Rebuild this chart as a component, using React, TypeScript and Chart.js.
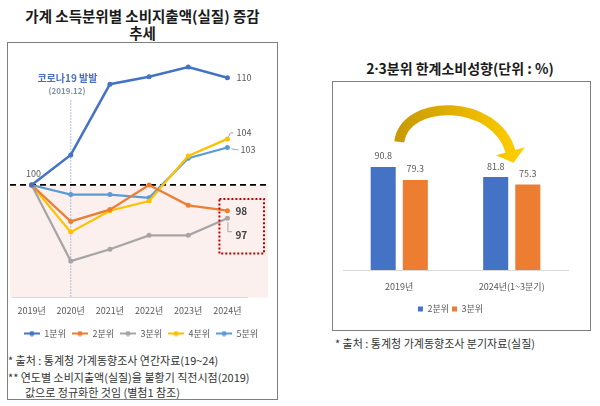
import React, { useEffect, useRef } from "react";
import { Chart, registerables } from "chart.js";

Chart.register(...registerables);

const FONT = "'Noto Sans CJK KR', 'Noto Sans', sans-serif";
Chart.defaults.font.family = FONT;

// ---- Left chart data (2019 = 100) ----
const years = ["2019년", "2020년", "2021년", "2022년", "2023년", "2024년"];
const quintileNames = ["1분위", "2분위", "3분위", "4분위", "5분위"];
const q1Values = [100, 102.8, 109.4, 110.1, 111.0, 110.0];
const q2Values = [100, 96.6, 97.7, 100.0, 98.1, 97.6];
const q3Values = [100, 92.9, 94.0, 95.3, 95.3, 96.9];
const q4Values = [100, 95.6, 97.6, 98.5, 102.7, 104.3];
const q5Values = [100, 99.1, 99.1, 98.8, 102.5, 103.5];
const quintileColors = ["#4472c4", "#ed7d31", "#a5a5a5", "#ffc000", "#5b9bd5"];
const endLabels = ["110", "98", "97", "104", "103"];
const baseLabel = "100";
const covidLabel = "코로나19 발발";
const covidDate = "(2019.12)";

// ---- Right chart data (%) ----
const barCategories = ["2019년", "2024년(1~3분기)"];
const barSeriesNames = ["2분위", "3분위"];
const q2Propensity = [90.8, 81.8];
const q3Propensity = [79.3, 75.3];
const barColors = ["#4472c4", "#ed7d31"];

function LineChart() {
  const ref = useRef<HTMLCanvasElement>(null);
  useEffect(() => {
    const seriesValues = [q1Values, q2Values, q3Values, q4Values, q5Values];
    const markers = quintileColors.map((c) => {
      const cv = document.createElement("canvas");
      cv.width = 16;
      cv.height = 6;
      const g = cv.getContext("2d")!;
      g.strokeStyle = c;
      g.lineWidth = 2;
      g.beginPath();
      g.moveTo(0, 3);
      g.lineTo(16, 3);
      g.stroke();
      g.fillStyle = c;
      g.beginPath();
      g.arc(8, 3, 2.5, 0, Math.PI * 2);
      g.fill();
      return cv;
    });

    const decor = {
      id: "lineDecor",
      beforeDraw(chart: any) {
        const { ctx, chartArea: ca, scales } = chart;
        const y100 = scales.y.getPixelForValue(100);
        ctx.save();
        ctx.fillStyle = "#fcf0ef";
        ctx.fillRect(ca.left - 2, y100, ca.right + 21 - (ca.left - 2), ca.bottom - y100);
        ctx.restore();
      },
      beforeDatasetsDraw(chart: any) {
        const { ctx, chartArea: ca, scales } = chart;
        const x = scales.x;
        const y = scales.y;
        const y100 = y.getPixelForValue(100);
        const xc = x.getPixelForValue(1);
        ctx.save();
        ctx.strokeStyle = "#9aa8d8";
        ctx.lineWidth = 1;
        ctx.setLineDash([1.5, 1.5]);
        ctx.beginPath();
        ctx.moveTo(xc, y.getPixelForValue(107.9));
        ctx.lineTo(xc, ca.bottom);
        ctx.stroke();
        ctx.setLineDash([6, 4]);
        ctx.strokeStyle = "#000";
        ctx.lineWidth = 1.8;
        ctx.beginPath();
        ctx.moveTo(ca.left - 2, y100);
        ctx.lineTo(ca.right + 21, y100);
        ctx.stroke();
        ctx.setLineDash([]);
        ctx.textAlign = "center";
        ctx.textBaseline = "middle";
        ctx.font = `bold 10px ${FONT}`;
        ctx.fillStyle = "#4a6fc0";
        ctx.fillText(covidLabel, xc - 3.3, y.getPixelForValue(110));
        ctx.font = `600 8px ${FONT}`;
        ctx.fillStyle = "#8090aa";
        ctx.fillText(covidDate, xc - 3.7, y.getPixelForValue(108.8));
        ctx.restore();
      },
      afterDatasetsDraw(chart: any) {
        const { ctx, chartArea: ca, scales } = chart;
        const y = scales.y;
        const last = years.length - 1;
        const pt = (d: number, i: number) => chart.getDatasetMeta(d).data[i] as any;
        ctx.save();
        ctx.textBaseline = "middle";
        ctx.font = `9px ${FONT}`;
        ctx.fillStyle = "#595959";
        ctx.textAlign = "center";
        const p0 = pt(0, 0);
        ctx.fillText(baseLabel, p0.x + 2, p0.y - 11);
        ctx.textAlign = "left";
        const a = pt(0, last);
        ctx.fillText(endLabels[0], a.x + 9, a.y);
        ctx.strokeStyle = "#a6a6a6";
        ctx.lineWidth = 1;
        const b = pt(3, last);
        ctx.beginPath();
        ctx.moveTo(b.x + 1, b.y - 2);
        ctx.lineTo(b.x + 3, b.y - 6);
        ctx.lineTo(b.x + 6, b.y - 6);
        ctx.stroke();
        ctx.fillText(endLabels[3], b.x + 9, b.y - 6);
        const c = pt(4, last);
        ctx.beginPath();
        ctx.moveTo(c.x + 4, c.y + 1.5);
        ctx.lineTo(c.x + 11, c.y + 2.5);
        ctx.stroke();
        ctx.fillText(endLabels[4], c.x + 13, c.y + 2.5);
        ctx.font = `bold 10px ${FONT}`;
        ctx.fillStyle = "#404040";
        const d = pt(1, last);
        ctx.fillText(endLabels[1], d.x + 8, d.y + 1);
        const e = pt(2, last);
        ctx.beginPath();
        ctx.moveTo(e.x + 0.5, e.y + 4);
        ctx.lineTo(e.x + 0.5, e.y + 13.5);
        ctx.lineTo(e.x + 4.5, e.y + 13.5);
        ctx.stroke();
        ctx.fillText(endLabels[2], e.x + 8, e.y + 17);
        ctx.strokeStyle = "#c00000";
        ctx.lineWidth = 2;
        ctx.setLineDash([2, 2]);
        const top = y.getPixelForValue(98.7);
        const bot = y.getPixelForValue(93.6);
        ctx.strokeRect(d.x - 8, top, ca.right + 17 - (d.x - 8), bot - top);
        ctx.restore();
      },
    };

    const chart = new Chart(ref.current!, {
      type: "line",
      data: {
        labels: years,
        datasets: seriesValues.map((v, i) => ({
          label: quintileNames[i],
          data: v,
          borderColor: quintileColors[i],
          backgroundColor: quintileColors[i],
          pointBackgroundColor: quintileColors[i],
          pointBorderColor: quintileColors[i],
          pointRadius: 2.5,
          pointBorderWidth: 0,
          borderWidth: i === 0 ? 2.5 : 2.2,
          tension: 0,
        })),
      },
      options: {
        responsive: false,
        animation: false,
        events: [],
        layout: { padding: { left: 4, right: 6, top: 7, bottom: 0 } },
        scales: {
          x: {
            offset: true,
            grid: { display: false, drawTicks: false },
            border: { color: "#d9d9d9" },
            ticks: { color: "#595959", font: { size: 9, family: FONT }, padding: 8, maxRotation: 0 },
            afterFit: (s: any) => {
              s.height = 25.5;
            },
          },
          y: {
            position: "right",
            min: 89.5,
            max: 112.5,
            grid: { display: false, drawTicks: false },
            border: { display: false },
            ticks: { display: false },
            afterFit: (s: any) => {
              s.width = 23;
            },
          },
        },
        plugins: {
          legend: {
            position: "bottom",
            labels: {
              usePointStyle: true,
              pointStyleWidth: 16,
              padding: 6,
              color: "#595959",
              font: { size: 9, family: FONT },
              generateLabels: (ch: any) =>
                (Chart.defaults.plugins.legend.labels as any)
                  .generateLabels(ch)
                  .map((l: any, i: number) => ({ ...l, pointStyle: markers[i] })),
            },
          },
          tooltip: { enabled: false },
        },
      } as any,
      plugins: [decor],
    });
    return () => chart.destroy();
  }, []);
  return (
    <canvas
      ref={ref}
      width={268}
      height={304}
      style={{ position: "absolute", left: 8, top: 44, display: "block" }}
    />
  );
}

function BarChart() {
  const ref = useRef<HTMLCanvasElement>(null);
  useEffect(() => {
    const barDecor = {
      id: "barDecor",
      afterDatasetsDraw(chart: any) {
        const { ctx } = chart;
        ctx.save();
        ctx.font = `9px ${FONT}`;
        ctx.fillStyle = "#595959";
        ctx.textAlign = "center";
        ctx.textBaseline = "middle";
        chart.data.datasets.forEach((ds: any, di: number) => {
          chart.getDatasetMeta(di).data.forEach((el: any, i: number) => {
            ctx.fillText(Number(ds.data[i]).toFixed(1), el.x, el.y - 11);
          });
        });
        const b0 = chart.getDatasetMeta(0).data[0] as any;
        const b1 = chart.getDatasetMeta(0).data[1] as any;
        const P0 = { x: b0.x + 16, y: b0.y - 25 };
        const P3 = { x: b1.x + 15, y: b1.y - 25 };
        const P1 = { x: P0.x + 6, y: P0.y - 44 };
        const P2 = { x: P3.x - 15, y: P3.y - 54 };
        const grad = ctx.createLinearGradient(P0.x, 0, P3.x + 15, 0);
        grad.addColorStop(0, "#c99a06");
        grad.addColorStop(0.5, "#e6b400");
        grad.addColorStop(1, "#ffd200");
        ctx.strokeStyle = grad;
        ctx.lineWidth = 10;
        ctx.lineCap = "butt";
        ctx.beginPath();
        ctx.moveTo(P0.x, P0.y);
        ctx.bezierCurveTo(P1.x, P1.y, P2.x, P2.y, P3.x, P3.y);
        ctx.stroke();
        const dx = P3.x - P2.x;
        const dy = P3.y - P2.y;
        const len = Math.hypot(dx, dy);
        const ux = dx / len;
        const uy = dy / len;
        const nx = -uy;
        const ny = ux;
        ctx.fillStyle = grad;
        ctx.beginPath();
        ctx.moveTo(P3.x + nx * 15 - ux, P3.y + ny * 15 - uy);
        ctx.lineTo(P3.x + ux * 11, P3.y + uy * 11);
        ctx.lineTo(P3.x - nx * 15 - ux, P3.y - ny * 15 - uy);
        ctx.closePath();
        ctx.fill();
        ctx.restore();
      },
    };
    const chart = new Chart(ref.current!, {
      type: "bar",
      data: {
        labels: barCategories,
        datasets: [q2Propensity, q3Propensity].map((v, i) => ({
          label: barSeriesNames[i],
          data: v,
          backgroundColor: barColors[i],
          borderWidth: 0,
          categoryPercentage: 0.571,
          barPercentage: 0.78,
        })),
      },
      options: {
        responsive: false,
        animation: false,
        events: [],
        layout: { padding: { left: 0, right: 21, top: 8, bottom: 5.5 } },
        scales: {
          x: {
            grid: { display: false, drawTicks: false },
            border: { color: "#d9d9d9" },
            ticks: { color: "#595959", font: { size: 9, family: FONT }, padding: 11.6 },
            afterFit: (s: any) => {
              s.height = 31.5;
            },
          },
          y: {
            position: "left",
            min: 0,
            max: 158.5,
            grid: { display: false, drawTicks: false },
            border: { display: false },
            ticks: { display: false },
            afterFit: (s: any) => {
              s.width = 10;
            },
          },
        },
        plugins: {
          legend: {
            position: "bottom",
            labels: {
              boxWidth: 5,
              boxHeight: 5,
              padding: 3,
              color: "#595959",
              font: { size: 9, family: FONT },
            },
          },
          tooltip: { enabled: false },
        },
      } as any,
      plugins: [barDecor],
    });
    return () => chart.destroy();
  }, []);
  return (
    <canvas
      ref={ref}
      width={256}
      height={247}
      style={{ position: "absolute", left: 333, top: 82, display: "block" }}
    />
  );
}

const textBase: React.CSSProperties = {
  position: "absolute",
  whiteSpace: "nowrap",
  fontFamily: FONT,
};

const noteStyle: React.CSSProperties = {
  ...textBase,
  transform: "translateY(-50%)",
  fontSize: 11,
  color: "#333",
};

export default function App() {
  return (
    <div
      style={{
        position: "absolute",
        left: 0,
        top: 0,
        width: 600,
        height: 406,
        background: "#fff",
        overflow: "hidden",
        fontFamily: FONT,
      }}
    >
      <div
        style={{
          ...textBase,
          left: 0,
          width: 285,
          top: 8,
          textAlign: "center",
          fontSize: 14.5,
          fontWeight: 700,
          lineHeight: "16.5px",
          color: "#1a1a1a",
        }}
      >
        가계 소득분위별 소비지출액(실질) 증감
        <br />
        추세
      </div>
      <div
        style={{
          position: "absolute",
          left: 7,
          top: 42,
          width: 271,
          height: 358,
          border: "1px solid #7f7f7f",
          boxSizing: "border-box",
        }}
      />
      <LineChart />
      <div style={{ ...noteStyle, left: 8, top: 360 }}>* 출처 : 통계청 가계동향조사 연간자료(19~24)</div>
      <div style={{ ...noteStyle, left: 8, top: 377 }}>** 연도별 소비지출액(실질)을 불황기 직전시점(2019)</div>
      <div style={{ ...noteStyle, left: 25, top: 392 }}>값으로 정규화한 것임 (별첨1 참조)</div>

      <div
        style={{
          ...textBase,
          left: 460,
          top: 68,
          transform: "translate(-50%, -50%)",
          fontSize: 14,
          fontWeight: 700,
          color: "#1a1a1a",
        }}
      >
        2<span style={{ fontFamily: "'Noto Sans', sans-serif" }}>·</span>3분위 한계소비성향(단위 : %)
      </div>
      <div
        style={{
          position: "absolute",
          left: 332,
          top: 81,
          width: 259,
          height: 250,
          border: "1px solid #7f7f7f",
          boxSizing: "border-box",
        }}
      />
      <BarChart />
      <div style={{ ...noteStyle, left: 335, top: 343 }}>* 출처 : 통계청 가계동향조사 분기자료(실질)</div>
    </div>
  );
}
